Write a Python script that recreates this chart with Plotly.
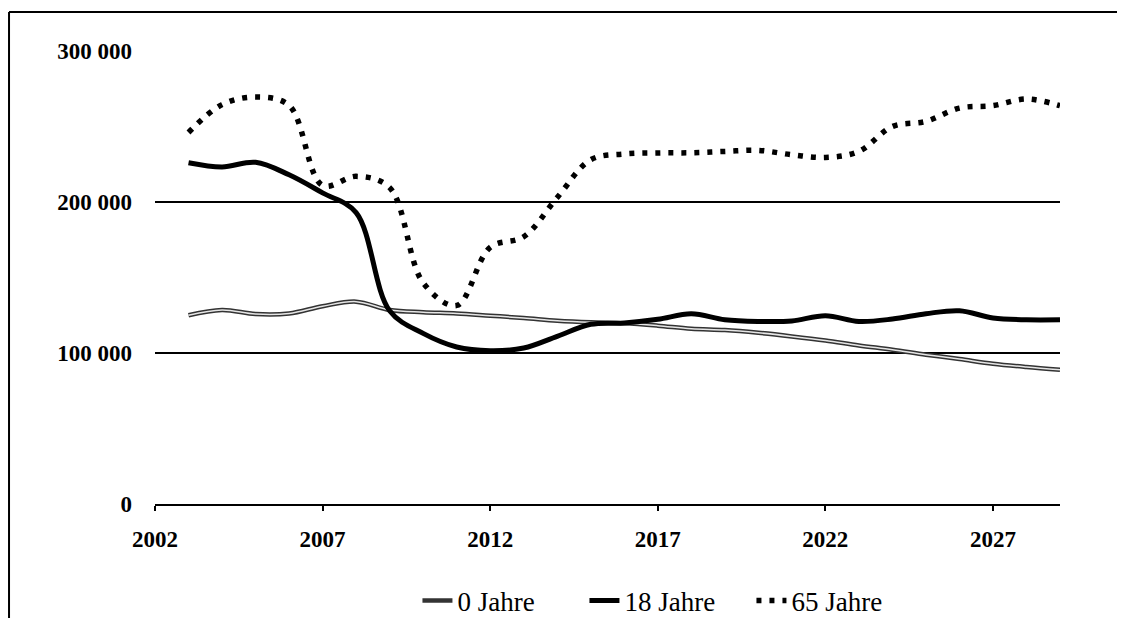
import plotly.graph_objects as go

years = list(range(2003, 2030))

jahre_0 = [125000, 128500, 125800, 126200, 131000, 134000, 128500, 127000, 126200, 124700,
           123200, 121400, 120300, 119700, 118100, 116000, 115200, 113400, 111000, 108300,
           105000, 102200, 98900, 96000, 92900, 90700, 88900]

jahre_18 = [226000, 223200, 226300, 218000, 206000, 193000, 128000, 113000, 104000, 101500,
            103300, 111000, 119000, 119900, 122300, 126000, 122000, 120900, 121200, 124700,
            120900, 122500, 126000, 128000, 123200, 122000, 122000]

jahre_65 = [246000, 264500, 269500, 264000, 211000, 217000, 209500, 146500, 131500, 170000,
            177000, 203000, 228000, 231800, 232500, 232600, 233500, 234200, 231300, 229500,
            233500, 250000, 253400, 262200, 263800, 268200, 263800]

y_tickvals = [0, 100000, 200000, 300000]
y_ticktext = ["0", "100 000", "200 000", "300 000"]
x_tickvals = [2002, 2007, 2012, 2017, 2022, 2027]

FONT = "Liberation Serif, Times New Roman, serif"

fig = go.Figure()

fig.add_trace(go.Scatter(
    x=years, y=jahre_0, mode="lines", name="0 Jahre",
    line=dict(color="#333333", width=4.5, shape="spline", smoothing=1.0),
    legendgroup="g0",
))
fig.add_trace(go.Scatter(
    x=years, y=jahre_0, mode="lines", name="0 Jahre", showlegend=False,
    line=dict(color="#e6e6e6", width=1.5, shape="spline", smoothing=1.0),
    legendgroup="g0", hoverinfo="skip",
))
fig.add_trace(go.Scatter(
    x=years, y=jahre_18, mode="lines", name="18 Jahre",
    line=dict(color="#000000", width=5, shape="spline", smoothing=1.0),
))
fig.add_trace(go.Scatter(
    x=years, y=jahre_65, mode="lines", name="65 Jahre",
    line=dict(color="#000000", width=5.5, shape="spline", smoothing=1.0, dash="5px,8px"),
))

fig.update_layout(
    width=1117, height=610,
    margin=dict(l=147, r=65, t=43, b=114, autoexpand=False),
    paper_bgcolor="white", plot_bgcolor="white",
    font=dict(family=FONT, color="black"),
    showlegend=True,
    legend=dict(
        orientation="h", x=0.29, xanchor="left", y=-0.214, yanchor="middle",
        font=dict(family=FONT, size=27, color="black"),
        bgcolor="rgba(0,0,0,0)", tracegroupgap=0,
        entrywidth=122, entrywidthmode="pixels",
    ),
    xaxis=dict(
        range=[2002, 2029], tickvals=x_tickvals, ticktext=[str(v) for v in x_tickvals],
        showgrid=False, zeroline=False, showline=True, linecolor="black", linewidth=1.5,
        ticks="outside", ticklen=5, tickwidth=1.5, tickcolor="black",
        tickfont=dict(family=FONT, size=23, color="black", weight="bold"),
        ticklabelstandoff=9,
    ),
    yaxis=dict(
        range=[0, 300000], tickvals=y_tickvals, ticktext=y_ticktext,
        showgrid=True, gridcolor="black", gridwidth=1.5, zeroline=False, showline=False,
        ticks="", tickfont=dict(family=FONT, size=23, color="black", weight="bold"),
        ticklabelstandoff=22,
    ),
    shapes=[
        dict(type="line", xref="paper", yref="paper", x0=-0.1613, x1=1.08, y0=1.086, y1=1.086,
             line=dict(color="black", width=2)),
        dict(type="line", xref="paper", yref="paper", x0=-0.1613, x1=-0.1613, y0=1.086, y1=-0.3,
             line=dict(color="black", width=2)),
    ],
)

fig.write_html("out.html")
